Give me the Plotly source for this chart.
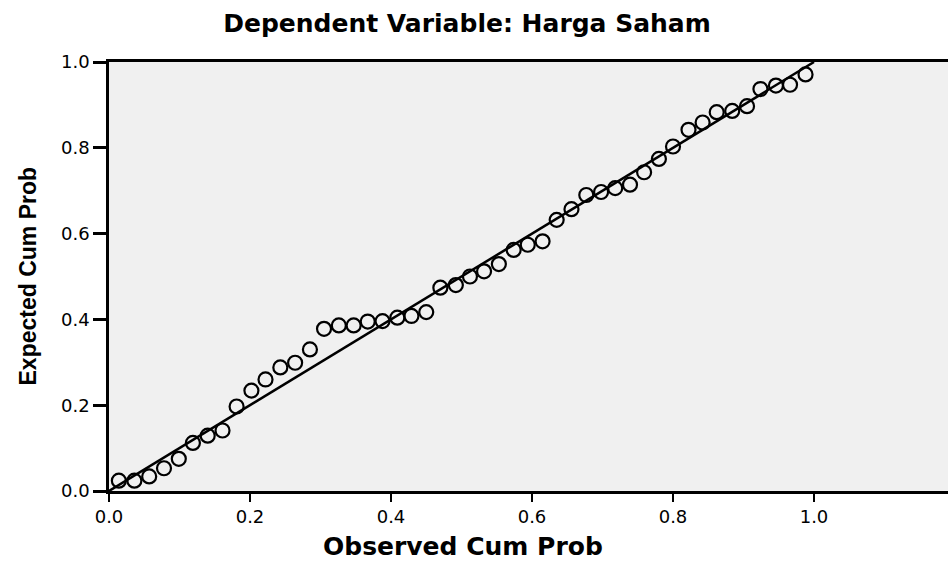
import plotly.graph_objects as go

# Observed vs expected cumulative probabilities
observed_cum_prob = [
    0.014, 0.036, 0.057, 0.078, 0.099, 0.119, 0.140, 0.161, 0.181, 0.202,
    0.222, 0.243, 0.264, 0.285, 0.305, 0.326, 0.347, 0.367, 0.388, 0.409,
    0.429, 0.450, 0.470, 0.492, 0.512, 0.532, 0.553, 0.574, 0.594, 0.615,
    0.635, 0.656, 0.677, 0.698, 0.718, 0.739, 0.759, 0.780, 0.800, 0.822,
    0.842, 0.862, 0.884, 0.905, 0.924, 0.946, 0.966, 0.988,
]
expected_cum_prob = [
    0.024, 0.024, 0.034, 0.053, 0.075, 0.112, 0.129, 0.141, 0.197, 0.234,
    0.260, 0.288, 0.299, 0.330, 0.378, 0.386, 0.386, 0.395, 0.396, 0.404,
    0.408, 0.417, 0.474, 0.480, 0.500, 0.512, 0.529, 0.562, 0.574, 0.582,
    0.632, 0.657, 0.690, 0.697, 0.706, 0.714, 0.743, 0.774, 0.803, 0.842,
    0.859, 0.883, 0.886, 0.897, 0.937, 0.945, 0.947, 0.971,
]
ref_line_x = [0.0, 1.0]
ref_line_y = [0.0, 1.0]

x_ticks = [0.0, 0.2, 0.4, 0.6, 0.8, 1.0]
x_tick_labels = ["0.0", "0.2", "0.4", "0.6", "0.8", "1.0"]
y_ticks = [0.0, 0.2, 0.4, 0.6, 0.8, 1.0]
y_tick_labels = ["0.0", "0.2", "0.4", "0.6", "0.8", "1.0"]

title_text = "Dependent Variable: Harga Saham"
x_title = "Observed Cum Prob"
y_title = "Expected Cum Prob"

fig = go.Figure()
fig.add_trace(go.Scatter(
    x=ref_line_x, y=ref_line_y, mode="lines",
    line=dict(color="black", width=2.5), hoverinfo="skip", showlegend=False,
))
fig.add_trace(go.Scatter(
    x=observed_cum_prob, y=expected_cum_prob, mode="markers",
    marker=dict(symbol="circle-open", size=14, color="black",
                line=dict(color="black", width=2.2)),
    showlegend=False,
))

fig.update_layout(
    width=948, height=561,
    margin=dict(l=109, r=0, t=62, b=70),
    paper_bgcolor="white",
    plot_bgcolor="#F0F0F0",
    title=dict(text=f"<b>{title_text}</b>", x=467 / 948, xanchor="center",
               y=1 - 23 / 561, yanchor="middle", xref="container", yref="container",
               font=dict(family="DejaVu Sans", size=25, color="black")),
    xaxis=dict(range=[0, 839 / 705], tickvals=x_ticks, ticktext=x_tick_labels,
               showgrid=False, zeroline=False, showline=True, linecolor="black",
               linewidth=2.5, mirror=True, ticks="outside", ticklen=8, tickwidth=2,
               tickcolor="black",
               tickfont=dict(family="DejaVu Sans", size=18, color="black")),
    yaxis=dict(range=[0, 1], tickvals=y_ticks, ticktext=y_tick_labels,
               showgrid=False, zeroline=False, showline=True, linecolor="black",
               linewidth=2.5, mirror=False, ticks="outside", ticklen=13, tickwidth=2.5,
               tickcolor="black",
               tickfont=dict(family="DejaVu Sans", size=18, color="black")),
    annotations=[
        dict(text=f"<b>{x_title}</b>", xref="paper", yref="paper",
             x=(463 - 109) / 839, y=(491 - 546) / 429, xanchor="center", yanchor="middle",
             showarrow=False, font=dict(family="DejaVu Sans", size=25, color="black")),
        dict(text=f"<b>{y_title}</b>", xref="paper", yref="paper",
             x=(27 - 109) / 839, y=0.5, xanchor="center", yanchor="middle",
             textangle=-90, showarrow=False,
             font=dict(family="Liberation Sans", size=23, color="black")),
    ],
)

fig.write_html("out.html", config={"displayModeBar": False},
               post_script="document.body.style.margin='0';")
